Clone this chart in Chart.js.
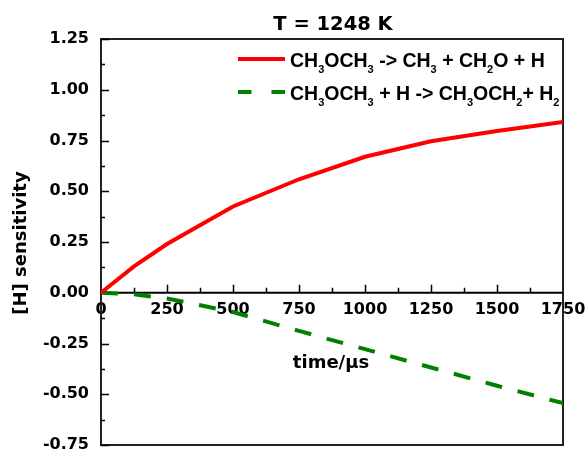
<!DOCTYPE html>
<html>
<head>
<meta charset="utf-8">
<script src="https://cdn.jsdelivr.net/npm/chart.js@4.4.1/dist/chart.umd.min.js"></script>
<style>
  html, body { margin: 0; padding: 0; background: #fff; }
  #wrap { width: 585px; height: 453px; }
</style>
</head>
<body>
<div id="wrap"><canvas id="chart" width="585" height="453"></canvas></div>
<script>
// time axis, microseconds
const times = [0, 125, 250, 500, 750, 1000, 1250, 1500, 1750]
// [H] sensitivity for each reaction
const dissociation = [0, 0.13, 0.24, 0.425, 0.559, 0.67, 0.746, 0.797, 0.841]
const abstraction = [0, -0.008, -0.028, -0.095, -0.188, -0.278, -0.368, -0.458, -0.544]

// reaction labels, "_n" marks a subscript digit
const reactionLabels = [
  "CH_3OCH_3 -> CH_3 + CH_2O + H",
  "CH_3OCH_3 + H -> CH_3OCH_2+ H_2",
]
const yTicks = [-0.75, -0.5, -0.25, 0, 0.25, 0.5, 0.75, 1.0, 1.25]
const xTicks = [0, 250, 500, 750, 1000, 1250, 1500, 1750]

const titleText = "T = 1248 K"
const xTitle = "time/\u00b5s"
const yTitle = "[H] sensitivity"

const TICK_FONT = "DejaVu Sans"
const LEGEND_FONT = "'Liberation Sans', Arial, sans-serif"

function toPoints(xs, ys) {
  return xs.map((x, i) => ({ x: x, y: ys[i] }))
}

// split "CH_3O" into [{t:"CH"}, {t:"3", sub:true}, {t:"O"}]
function splitSubscripts(str) {
  const parts = []
  let buf = ""
  for (let i = 0; i < str.length; i++) {
    if (str[i] === "_" && i + 1 < str.length) {
      if (buf) parts.push({ t: buf, sub: false })
      buf = ""
      parts.push({ t: str[i + 1], sub: true })
      i++
    } else {
      buf += str[i]
    }
  }
  if (buf) parts.push({ t: buf, sub: false })
  return parts
}

function drawRichText(ctx, str, x, y) {
  const parts = splitSubscripts(str)
  ctx.textAlign = "left"
  ctx.textBaseline = "alphabetic"
  let cx = x
  parts.forEach((p) => {
    if (p.sub) {
      ctx.font = "bold 11px " + LEGEND_FONT
      ctx.fillText(p.t, cx, y + 6)
    } else {
      ctx.font = "bold 19.5px " + LEGEND_FONT
      ctx.fillText(p.t, cx, y)
    }
    cx += ctx.measureText(p.t).width
  })
}

// keep the plot box fixed: no extra room for half labels
function noScalePadding(scale) {
  scale.paddingTop = 0
  scale.paddingBottom = 0
  scale.paddingLeft = 0
  scale.paddingRight = 0
}

// frame, zero line and inward tick marks
const framePlugin = {
  id: "frame",
  beforeDatasetsDraw(chart) {
    const ctx = chart.ctx
    const a = chart.chartArea
    const xs = chart.scales.x
    const ys = chart.scales.y
    ctx.save()
    ctx.strokeStyle = "#222"
    ctx.lineWidth = 2
    ctx.strokeRect(a.left, a.top, a.right - a.left, a.bottom - a.top)

    const zeroY = ys.getPixelForValue(0)
    ctx.strokeStyle = "#000"
    ctx.beginPath()
    ctx.moveTo(a.left, zeroY)
    ctx.lineTo(a.right, zeroY)
    ctx.stroke()

    ctx.lineWidth = 1.5
    ctx.beginPath()
    // y ticks every 0.125, majors every 0.25
    for (let v = -0.75; v <= 1.25 + 1e-9; v += 0.125) {
      const py = Math.round(ys.getPixelForValue(v)) + 0.5
      const major = Math.abs(v / 0.25 - Math.round(v / 0.25)) < 1e-6
      ctx.moveTo(a.left, py)
      ctx.lineTo(a.left + (major ? 8 : 4), py)
    }
    // x ticks every 125 along the zero line, pointing up
    for (let t = 125; t < 1750; t += 125) {
      const px = Math.round(xs.getPixelForValue(t)) + 0.5
      const major = t % 250 === 0
      ctx.moveTo(px, zeroY)
      ctx.lineTo(px, zeroY - (major ? 8 : 5))
    }
    ctx.stroke()
    ctx.restore()
  },
  afterDraw(chart) {
    const ctx = chart.ctx
    ctx.save()
    ctx.fillStyle = "#000"
    ctx.textAlign = "center"
    ctx.textBaseline = "middle"

    ctx.font = "bold 19.5px " + TICK_FONT
    ctx.fillText(titleText, 333, 25)

    ctx.font = "bold 18px " + TICK_FONT
    ctx.fillText(xTitle, 331, 363)

    ctx.save()
    ctx.translate(21, 243)
    ctx.rotate(-Math.PI / 2)
    ctx.fillText(yTitle, 0, 0)
    ctx.restore()

    // legend
    const rows = [
      { y: 59, color: "#ff0000", dash: [] },
      { y: 92, color: "#008000", dash: [13.5, 20] },
    ]
    rows.forEach((r, i) => {
      ctx.save()
      ctx.strokeStyle = r.color
      ctx.lineWidth = 4
      ctx.setLineDash(r.dash)
      ctx.beginPath()
      ctx.moveTo(238, r.y)
      ctx.lineTo(285, r.y)
      ctx.stroke()
      ctx.restore()
      drawRichText(ctx, reactionLabels[i], 290, r.y + 8)
    })
    ctx.restore()
  },
}

const ctx = document.getElementById("chart").getContext("2d")

new Chart(ctx, {
  type: "line",
  data: {
    datasets: [
      {
        label: reactionLabels[0].replace(/_/g, ""),
        data: toPoints(times, dissociation),
        borderColor: "#ff0000",
        borderWidth: 4,
        pointRadius: 0,
        fill: false,
        tension: 0,
      },
      {
        label: reactionLabels[1].replace(/_/g, ""),
        data: toPoints(times, abstraction),
        borderColor: "#008000",
        borderWidth: 4,
        borderDash: [17, 16],
        pointRadius: 0,
        fill: false,
        tension: 0,
      },
    ],
  },
  options: {
    responsive: false,
    animation: false,
    layout: { padding: { top: 39, right: 22, bottom: 8, left: 0 } },
    plugins: {
      legend: { display: false },
      tooltip: { enabled: false },
      title: { display: false },
    },
    scales: {
      x: {
        type: "linear",
        position: { y: 0 },
        min: 0,
        max: 1750,
        afterBuildTicks: (scale) => {
          scale.ticks = xTicks.map((v) => ({ value: v }))
        },
        afterFit: noScalePadding,
        ticks: {
          autoSkip: false,
          maxRotation: 0,
          padding: 7,
          color: "#000",
          font: { family: TICK_FONT, size: 16, weight: "bold" },
          callback: (v) => String(v),
        },
        grid: { display: false, drawTicks: false },
        border: { display: false },
      },
      y: {
        min: -0.75,
        max: 1.25,
        afterBuildTicks: (scale) => {
          scale.ticks = yTicks.map((v) => ({ value: v }))
        },
        afterFit: (scale) => {
          noScalePadding(scale)
          scale.width = 101
        },
        ticks: {
          padding: 12,
          color: "#000",
          font: { family: TICK_FONT, size: 16, weight: "bold" },
          callback: (v) => Number(v).toFixed(2),
        },
        grid: { display: false, drawTicks: false },
        border: { display: false },
      },
    },
  },
  plugins: [framePlugin],
})
</script>
</body>
</html>
